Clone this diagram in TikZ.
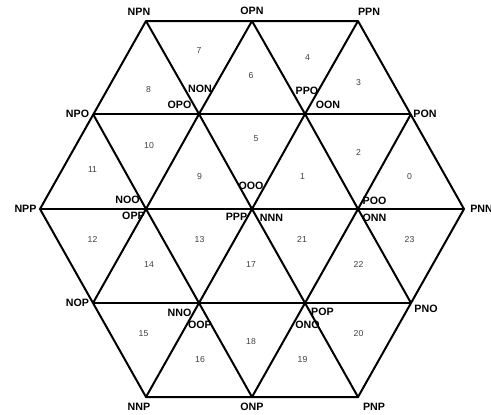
\documentclass[tikz,border=0pt]{standalone}
\usepackage{fontspec}
\setmainfont{Liberation Sans}
\begin{document}
\begin{tikzpicture}[x=0.75pt,y=-0.75pt,
  edge/.style={line width=1.5pt,black},
  vlab/.style={font=\fontsize{8pt}{9pt}\selectfont\bfseries,inner sep=0pt},
  tnum/.style={font=\fontsize{6.5pt}{7.5pt}\selectfont,text=black!75,inner sep=0pt}]
\useasboundingbox (0,0) rectangle (491,414);
% lattice vertices
\coordinate (NPN) at (146,21);
\coordinate (OPN) at (252,21);
\coordinate (PPN) at (358,21);
\coordinate (NPO) at (93,114);
\coordinate (OPO) at (199,114);
\coordinate (PPO) at (305,114);
\coordinate (PON) at (411,114);
\coordinate (NPP) at (40,209);
\coordinate (NOO) at (146,209);
\coordinate (OOO) at (252,209);
\coordinate (POO) at (358,209);
\coordinate (PNN) at (464,209);
\coordinate (NOP) at (93,303);
\coordinate (NNO) at (199,303);
\coordinate (POP) at (305,303);
\coordinate (PNO) at (411,303);
\coordinate (NNP) at (146,397);
\coordinate (ONP) at (252,397);
\coordinate (PNP) at (358,397);
% hexagon outline
\draw[edge] (NPN) -- (PPN) -- (PNN) -- (PNP) -- (NNP) -- (NPP) -- cycle;
% horizontal lines
\draw[edge] (NPO) -- (PON);
\draw[edge] (NPP) -- (PNN);
\draw[edge] (NOP) -- (PNO);
% diagonals "\"
\draw[edge] (NPN) -- (OPO) -- (OOO) -- (POP) -- (PNP);
\draw[edge] (NPO) -- (NOO) -- (NNO) -- (ONP);
\draw[edge] (OPN) -- (PPO) -- (POO) -- (PNO);
% diagonals "/"
\draw[edge] (OPN) -- (OPO) -- (NOO) -- (NOP);
\draw[edge] (PPN) -- (PPO) -- (OOO) -- (NNO) -- (NNP);
\draw[edge] (PON) -- (POO) -- (POP) -- (ONP);
% vertex labels
\node[vlab] (lNPN) at (139,12) {NPN};
\node[vlab] (lOPN) at (252,10.5) {OPN};
\node[vlab] (lPPN) at (369,12) {PPN};
\node[vlab] (lNON) at (200,89) {NON};
\node[vlab] (lOPO) at (179.5,105) {OPO};
\node[vlab] (lPPO) at (307,90.5) {PPO};
\node[vlab] (lOON) at (328,105) {OON};
\node[vlab] (lNPO) at (77.5,113.5) {NPO};
\node[vlab] (lPON) at (425,113.5) {PON};
\node[vlab] (lNOO) at (127.5,199.5) {NOO};
\node[vlab] (lOPP) at (133.5,216) {OPP};
\node[vlab] (lNPP) at (25.5,208.5) {NPP};
\node[vlab] (lPPP) at (236.5,217) {PPP};
\node[vlab] (lOOO) at (251,185.5) {OOO};
\node[vlab] (lNNN) at (271.5,217.5) {NNN};
\node[vlab] (lPOO) at (374.5,201) {POO};
\node[vlab] (lONN) at (374.5,217.5) {ONN};
\node[vlab] (lPNN) at (481.5,208.5) {PNN};
\node[vlab] (lNOP) at (77.5,302.5) {NOP};
\node[vlab] (lNNO) at (179.5,312.5) {NNO};
\node[vlab] (lOOP) at (200,324.5) {OOP};
\node[vlab] (lPOP) at (322.5,311.5) {POP};
\node[vlab] (lONO) at (307.5,325) {ONO};
\node[vlab] (lPNO) at (426,309) {PNO};
\node[vlab] (lNNP) at (139,406.5) {NNP};
\node[vlab] (lONP) at (252,406.5) {ONP};
\node[vlab] (lPNP) at (374,406.5) {PNP};
% triangle numbers
\node[tnum] (t0) at (409.5,176.5) {0};
\node[tnum] (t1) at (302.5,176.5) {1};
\node[tnum] (t2) at (358.5,152.5) {2};
\node[tnum] (t3) at (358.5,82.5) {3};
\node[tnum] (t4) at (307.5,57.5) {4};
\node[tnum] (t5) at (256,138.5) {5};
\node[tnum] (t6) at (251,76) {6};
\node[tnum] (t7) at (199,50.5) {7};
\node[tnum] (t8) at (148.5,90) {8};
\node[tnum] (t9) at (199.5,176.5) {9};
\node[tnum] (t10) at (149,145.5) {10};
\node[tnum] (t11) at (92.5,169.5) {11};
\node[tnum] (t12) at (92.5,239.5) {12};
\node[tnum] (t13) at (199.5,239.5) {13};
\node[tnum] (t14) at (149,264.5) {14};
\node[tnum] (t15) at (143.5,334) {15};
\node[tnum] (t16) at (200,359.5) {16};
\node[tnum] (t17) at (251,264.5) {17};
\node[tnum] (t18) at (251,341.5) {18};
\node[tnum] (t19) at (302.5,359.5) {19};
\node[tnum] (t20) at (358.5,334) {20};
\node[tnum] (t21) at (302,239.5) {21};
\node[tnum] (t22) at (358.5,264.5) {22};
\node[tnum] (t23) at (409.5,239.5) {23};
\end{tikzpicture}
\end{document}
